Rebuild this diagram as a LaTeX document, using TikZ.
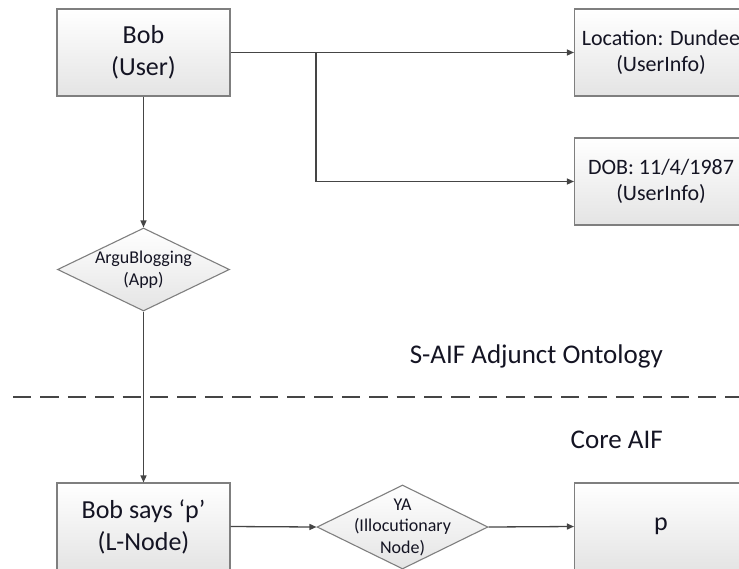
\documentclass[tikz,border=0pt]{standalone}
\usepackage{fontspec}
\setmainfont{Carlito}
\usetikzlibrary{shapes.geometric,arrows.meta,shadows}

\definecolor{boxline}{HTML}{7F7F7F}
\definecolor{boxbot}{HTML}{E4E4E4}
\definecolor{wire}{HTML}{454545}
\definecolor{ink}{HTML}{141423}

\tikzset{
  infobox/.style={draw=boxline, line width=1.1pt, top color=white, bottom color=boxbot,
    drop shadow={shadow xshift=1.2pt, shadow yshift=-1.2pt, opacity=0.35},
    minimum width=173pt, minimum height=87pt, inner sep=0pt, align=center, text=ink},
  bigtext/.style={font=\fontsize{26}{32}\selectfont},
  midtext/.style={font=\fontsize{22}{26.5}\selectfont},
  smalltext/.style={font=\fontsize{18}{21.5}\selectfont, align=center, text=ink},
  choice/.style={diamond, draw=boxline, line width=1.1pt, top color=white, bottom color=boxbot,
    inner sep=0pt},
  link/.style={draw=wire, line width=1.3pt},
  arrowlink/.style={link, -{Triangle[length=7pt,width=6pt]}},
  layertitle/.style={font=\fontsize{27}{32}\selectfont, text=ink, anchor=base east, inner sep=0pt},
}

\begin{document}
\begin{tikzpicture}[x=1pt,y=-1pt]
  \useasboundingbox (0,0) rectangle (739,568);
  \clip (0,0) rectangle (739,568);

  % layer separator
  \draw[wire, line width=2.6pt, dash pattern=on 18.4pt off 9pt] (13,397) -- (745,397);
  \node[layertitle] (adjunct) at (663,363) {S-AIF Adjunct Ontology};
  \node[layertitle] (core) at (663,448) {Core AIF};

  % adjunct ontology nodes
  \node[infobox, bigtext] (bob) at (143.5,52.5) {Bob\\(User)};
  \node[infobox, midtext] (loc) at (661,52.5) {Location: Dundee\\(UserInfo)};
  \node[infobox, midtext] (dob) at (661,181.5) {DOB: 11/4/1987\\(UserInfo)};
  \node[choice, minimum width=172pt, minimum height=83pt] (app) at (143.5,269.5) {};
  \node[smalltext] (apptext) at (app.center) {ArguBlogging\\(App)};

  % core AIF nodes
  \node[infobox, bigtext] (says) at (143.5,526.5) {Bob says ‘p’\\(L-Node)};
  \node[choice, minimum width=171pt, minimum height=84pt] (ya) at (402.5,527) {};
  \node[smalltext] (yatext) at (ya.center) {YA\\(Illocutionary\\Node)};
  \node[infobox, bigtext] (p) at (661,526.5) {p};

  % connectors
  \coordinate (fork) at (316,52.5);
  \draw[arrowlink] (bob.east) -- (loc.west);
  \draw[arrowlink] (fork) |- (dob.west);
  \draw[arrowlink] (bob.south) -- (app.north);
  \draw[arrowlink] (app.south) -- (says.north);
  \draw[arrowlink] (says.east) -- (ya.west);
  \draw[arrowlink] (ya.east) -- (p.west);
\end{tikzpicture}
\end{document}
